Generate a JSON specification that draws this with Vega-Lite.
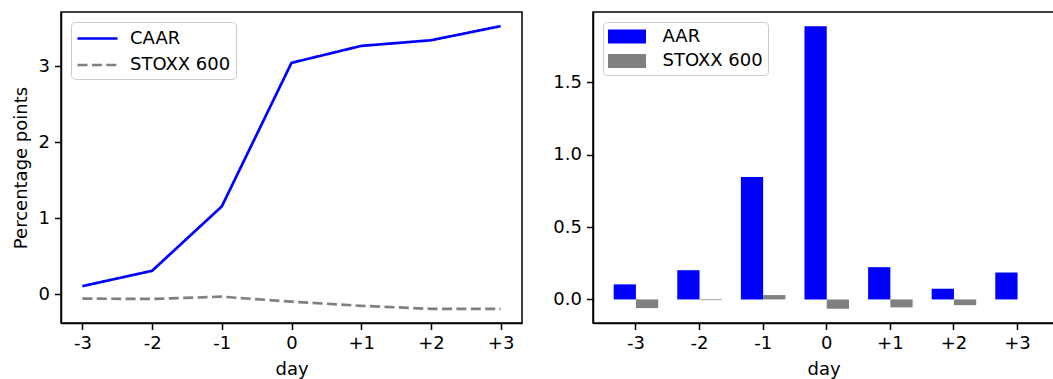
{
  "$schema": "https://vega.github.io/schema/vega-lite/v6.json",
  "padding": {"left": 11, "top": 11, "right": 0, "bottom": 0},
  "bounds": "flush",
  "spacing": 71,
  "datasets": {
    "cum": [
      {"day": "-3", "series": "CAAR", "value": 0.104},
      {"day": "-2", "series": "CAAR", "value": 0.306},
      {"day": "-1", "series": "CAAR", "value": 1.153},
      {"day": "0", "series": "CAAR", "value": 3.042},
      {"day": "+1", "series": "CAAR", "value": 3.265},
      {"day": "+2", "series": "CAAR", "value": 3.339},
      {"day": "+3", "series": "CAAR", "value": 3.525},
      {"day": "-3", "series": "STOXX 600", "value": -0.06},
      {"day": "-2", "series": "STOXX 600", "value": -0.065},
      {"day": "-1", "series": "STOXX 600", "value": -0.035},
      {"day": "0", "series": "STOXX 600", "value": -0.1},
      {"day": "+1", "series": "STOXX 600", "value": -0.155},
      {"day": "+2", "series": "STOXX 600", "value": -0.195},
      {"day": "+3", "series": "STOXX 600", "value": -0.195}
    ],
    "daily": [
      {"day": "-3", "series": "AAR", "value": 0.104},
      {"day": "-2", "series": "AAR", "value": 0.202},
      {"day": "-1", "series": "AAR", "value": 0.847},
      {"day": "0", "series": "AAR", "value": 1.889},
      {"day": "+1", "series": "AAR", "value": 0.223},
      {"day": "+2", "series": "AAR", "value": 0.074},
      {"day": "+3", "series": "AAR", "value": 0.186},
      {"day": "-3", "series": "STOXX 600", "value": -0.06},
      {"day": "-2", "series": "STOXX 600", "value": -0.005},
      {"day": "-1", "series": "STOXX 600", "value": 0.03},
      {"day": "0", "series": "STOXX 600", "value": -0.065},
      {"day": "+1", "series": "STOXX 600", "value": -0.055},
      {"day": "+2", "series": "STOXX 600", "value": -0.04},
      {"day": "+3", "series": "STOXX 600", "value": 0.0}
    ]
  },
  "config": {
    "view": {"stroke": "black", "strokeWidth": 1.5},
    "axis": {
      "domainColor": "black", "domainWidth": 1.5,
      "tickColor": "black", "tickWidth": 1.5, "tickSize": 6.5,
      "labelPadding": 5, "labelFont": "DejaVu Sans", "labelFontSize": 18, "labelColor": "black",
      "titleFont": "DejaVu Sans", "titleFontSize": 18, "titleFontWeight": "normal", "titleColor": "black",
      "titlePadding": 8, "grid": false
    },
    "legend": {
      "labelFont": "DejaVu Sans", "labelFontSize": 18, "labelColor": "black",
      "strokeColor": "#cccccc", "fillColor": "white", "cornerRadius": 4,
      "padding": 5
    }
  },
  "resolve": {
    "scale": {"color": "independent", "strokeDash": "independent", "x": "independent", "y": "independent"},
    "legend": {"color": "independent", "strokeDash": "independent"}
  },
  "hconcat": [
    {
      "width": 461,
      "height": 311,
      "data": {"name": "cum"},
      "mark": {"type": "line", "strokeWidth": 2.7},
      "encoding": {
        "x": {
          "field": "day", "type": "ordinal",
          "sort": ["-3", "-2", "-1", "0", "+1", "+2", "+3"],
          "scale": {"type": "point", "padding": 0.307},
          "axis": {"title": "day", "labelAngle": 0}
        },
        "y": {
          "field": "value", "type": "quantitative",
          "scale": {"domain": [-0.381, 3.711], "nice": false, "zero": false},
          "axis": {"title": "Percentage points", "values": [0, 1, 2, 3], "format": "d"}
        },
        "color": {
          "field": "series", "type": "nominal",
          "scale": {"domain": ["CAAR", "STOXX 600"], "range": ["#0000ff", "#808080"]},
          "legend": {"title": null, "orient": "top-left", "offset": 10, "symbolType": "M-2,0L2,0", "symbolSize": 400, "symbolStrokeWidth": 2.7, "symbolOffset": 10, "labelOffset": 21, "rowPadding": 5.5}
        },
        "strokeDash": {
          "field": "series", "type": "nominal",
          "scale": {"domain": ["CAAR", "STOXX 600"], "range": [[1, 0], [10, 4.4]]},
          "legend": {"title": null, "orient": "top-left", "offset": 10, "symbolType": "M-2,0L2,0", "symbolSize": 400, "symbolStrokeWidth": 2.7, "symbolOffset": 10, "labelOffset": 21, "rowPadding": 5.5}
        }
      }
    },
    {
      "width": 461,
      "height": 311,
      "data": {"name": "daily"},
      "mark": {"type": "bar"},
      "encoding": {
        "x": {
          "field": "day", "type": "ordinal",
          "sort": ["-3", "-2", "-1", "0", "+1", "+2", "+3"],
          "scale": {"type": "band", "paddingInner": 0.3, "paddingOuter": 0.274, "align": 0.593},
          "axis": {"title": "day", "labelAngle": 0}
        },
        "xOffset": {
          "field": "series", "type": "nominal",
          "sort": ["AAR", "STOXX 600"],
          "scale": {"paddingInner": 0, "paddingOuter": 0}
        },
        "y": {
          "field": "value", "type": "quantitative",
          "scale": {"domain": [-0.163, 1.987], "nice": false, "zero": false},
          "axis": {"title": null, "values": [0, 0.5, 1, 1.5], "format": ".1f"}
        },
        "color": {
          "field": "series", "type": "nominal",
          "scale": {"domain": ["AAR", "STOXX 600"], "range": ["#0000ff", "#808080"]},
          "legend": {"title": null, "orient": "top-left", "offset": 10, "symbolType": "M-2,-0.74L2,-0.74L2,0.74L-2,0.74Z", "symbolSize": 361, "symbolStrokeWidth": 0, "symbolOpacity": 1, "symbolOffset": 9.5, "labelOffset": 26, "rowPadding": 5.5}
        }
      }
    }
  ]
}
